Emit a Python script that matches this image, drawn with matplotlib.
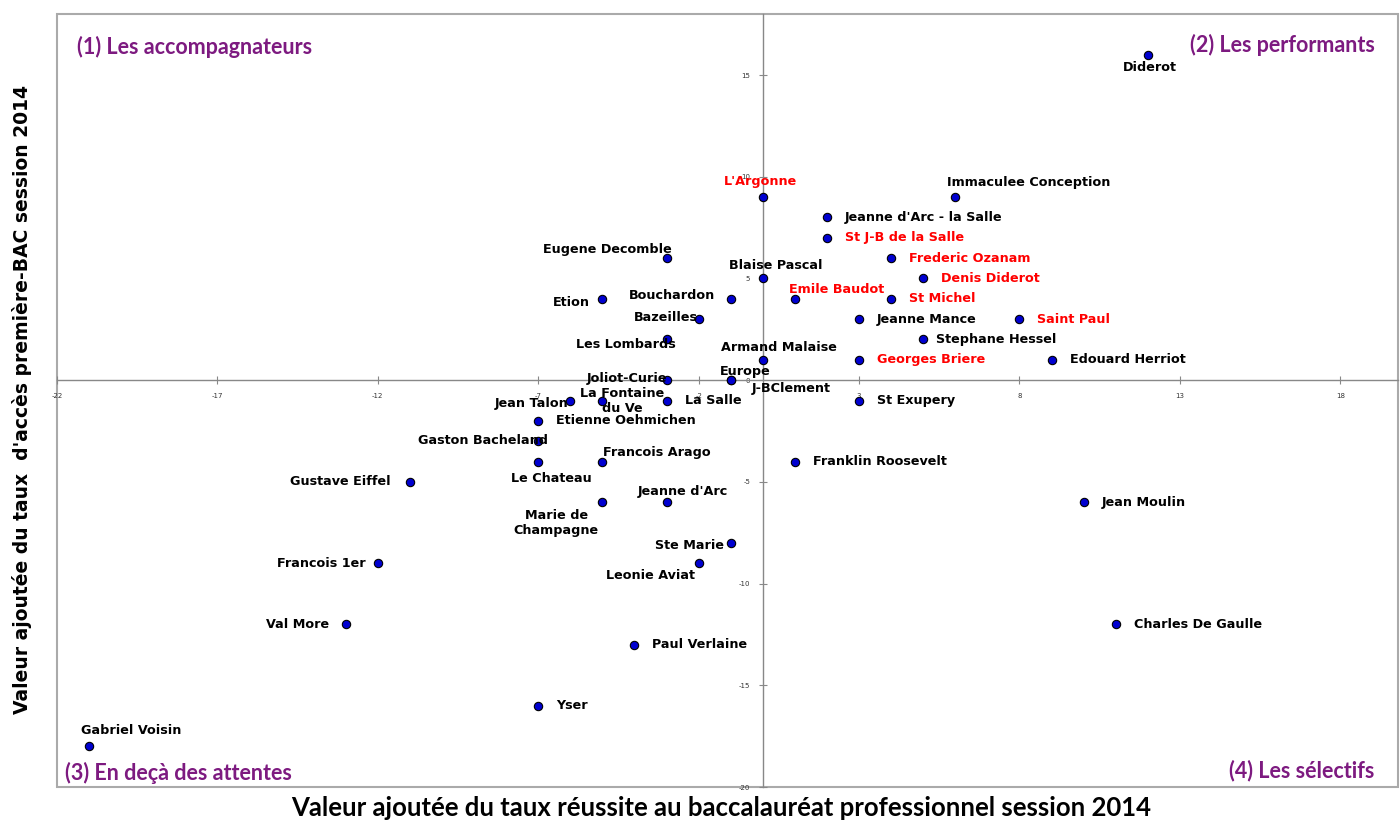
"""Valeur ajoutée des lycées professionnels : accès vs réussite au BAC 2014."""

import matplotlib
matplotlib.use("Agg")

import matplotlib.pyplot as plt
from matplotlib.patches import Rectangle

plt.rcParams["axes.unicode_minus"] = False

# --- données ---
etablissements = [
    "Diderot", "Immaculee Conception", "L'Argonne", "Jeanne d'Arc - la Salle",
    "St J-B de la Salle", "Frederic Ozanam", "Eugene Decomble", "Blaise Pascal",
    "Denis Diderot", "Etion", "Bouchardon", "Emile Baudot", "St Michel",
    "Bazeilles", "Jeanne Mance", "Saint Paul", "Les Lombards", "Stephane Hessel",
    "Armand Malaise", "Georges Briere", "Edouard Herriot", "Joliot-Curie",
    "Europe", "J-BClement", "Jean Talon", "La Fontaine\ndu Ve", "La Salle",
    "St Exupery", "Etienne Oehmichen", "Gaston Bacheland", "Le Chateau",
    "Francois Arago", "Franklin Roosevelt", "Gustave Eiffel",
    "Marie de\nChampagne", "Jeanne d'Arc", "Jean Moulin", "Ste Marie",
    "Leonie Aviat", "Francois 1er", "Val More", "Charles De Gaulle",
    "Paul Verlaine", "Yser", "Gabriel Voisin",
]
va_reussite = [
    12, 6, 0, 2,
    2, 4, -3, 0,
    5, -5, -1, 1, 4,
    -2, 3, 8, -3, 5,
    0, 3, 9, -3,
    -1, -1, -6, -5, -3,
    3, -7, -7, -7,
    -5, 1, -11,
    -5, -3, 10, -1,
    -2, -12, -13, 11,
    -4, -7, -21,
]
va_acces = [
    16, 9, 9, 8,
    7, 6, 6, 5,
    5, 4, 4, 4, 4,
    3, 3, 3, 2, 2,
    1, 1, 1, 0,
    0, 0, -1, -1, -1,
    -1, -2, -3, -4,
    -4, -4, -5,
    -6, -6, -6, -8,
    -9, -9, -12, -12,
    -13, -16, -18,
]
en_rouge = {
    "L'Argonne", "St J-B de la Salle", "Frederic Ozanam", "Denis Diderot",
    "Emile Baudot", "St Michel", "Saint Paul", "Georges Briere",
}

x_ticks = [-22, -17, -12, -7, -2, 3, 8, 13, 18]
y_ticks = [15, 10, 5, 0, -5, -10, -15, -20]

quadrants = [
    "(1) Les accompagnateurs", "(2) Les performants",
    "(3) En deçà des attentes", "(4) Les sélectifs",
]

# décalage des étiquettes (pixels) et alignement
placement = {
    "Diderot": (2, -13, "center"),
    "Immaculee Conception": (-8, 15, "left"),
    "L'Argonne": (-2, 16, "center"),
    "Eugene Decomble": (5, 9, "right"),
    "Blaise Pascal": (13, 13, "center"),
    "Etion": (-13, -4, "right"),
    "Bouchardon": (-16, 3, "right"),
    "Emile Baudot": (-6, 9, "left"),
    "Bazeilles": (-1, 2, "right"),
    "Les Lombards": (9, -5, "right"),
    "Stephane Hessel": (13, 0, "left"),
    "Armand Malaise": (16, 12, "center"),
    "Joliot-Curie": (1, 2, "right"),
    "Europe": (15, 9, "center"),
    "J-BClement": (61, -8, "center"),
    "Jean Talon": (-2, -3, "right"),
    "La Fontaine\ndu Ve": (20, 0, "center"),
    "Gaston Bacheland": (10, 1, "right"),
    "Le Chateau": (13, -17, "center"),
    "Francois Arago": (1, 9, "left"),
    "Gustave Eiffel": (-19, 0, "right"),
    "Marie de\nChampagne": (-46, -21, "center"),
    "Jeanne d'Arc": (16, 11, "center"),
    "Ste Marie": (-7, -3, "right"),
    "Leonie Aviat": (-48, -12, "center"),
    "Francois 1er": (-12, 0, "right"),
    "Val More": (-17, 0, "right"),
    "Gabriel Voisin": (-8, 16, "left"),
}

fig = plt.figure(figsize=(14, 8.21), dpi=100)
ax = fig.add_axes([57 / 1400, 1 - 787 / 821, 1341 / 1400, 773 / 821])

ax.scatter(va_reussite, va_acces, s=36, color="#0000d0",
           edgecolors="black", linewidths=0.8, zorder=3)

for nom, x, y in zip(etablissements, va_reussite, va_acces):
    dx, dy, ha = placement.get(nom, (18, 0, "left"))
    ax.annotate(nom, (x, y), xytext=(dx, dy), textcoords="offset pixels",
                ha=ha, va="center", multialignment="center",
                fontsize=9.2, fontweight="bold", family="DejaVu Sans",
                color="red" if nom in en_rouge else "black", zorder=4)

ax.set_xlim(-22, 19.8)
ax.set_ylim(-20, 18)

# axes passant par l'origine + cadre gris
for side in ("top", "right"):
    ax.spines[side].set_visible(False)
ax.spines["left"].set_position("zero")
ax.spines["bottom"].set_position("zero")
for side in ("left", "bottom"):
    ax.spines[side].set_color("#888888")
    ax.spines[side].set_linewidth(1)
ax.add_patch(Rectangle((0, 0), 1, 1, transform=ax.transAxes, fill=False,
                       edgecolor="#aaaaaa", linewidth=1.5, clip_on=False))

ax.set_xticks(x_ticks)
ax.set_yticks(y_ticks)
ax.tick_params(direction="inout", length=6, width=0.8, color="#888888",
               labelsize=5, labelcolor="#333333", pad=6)

purple = "#7d1a80"
qfont = dict(fontsize=15.5, fontweight="bold", family="Lato", color=purple,
             transform=ax.transAxes, va="center")
ax.text(20 / 1341, 1 - 33 / 773, quadrants[0], ha="left", **qfont)
ax.text(1318 / 1341, 1 - 31 / 773, quadrants[1], ha="right", **qfont)
ax.text(8 / 1341, 14 / 773, quadrants[2], ha="left", **qfont)
ax.text(1317 / 1341, 16 / 773, quadrants[3], ha="right", **qfont)

fig.text(721 / 1400, 1 - 808 / 821,
         "Valeur ajoutée du taux réussite au baccalauréat professionnel session 2014",
         ha="center", va="center", fontsize=18.5, fontweight="bold", family="Lato")
fig.text(22 / 1400, 1 - 399 / 821,
         "Valeur ajoutée du taux  d'accès première-BAC session 2014",
         ha="center", va="center", rotation=90, fontsize=13.5,
         fontweight="bold", family="DejaVu Sans")

fig.savefig("out.png", dpi=100)
plt.close(fig)
